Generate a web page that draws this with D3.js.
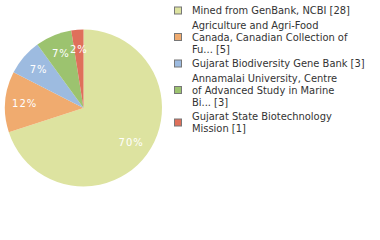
<!DOCTYPE html>
<html>
<head>
<meta charset="utf-8">
<script src="https://cdn.jsdelivr.net/npm/d3@7"></script>
<style>
  body { margin: 0; background: #fff; }
  svg { display: block; }
</style>
</head>
<body>
<div id="graph"></div>
<script>
var labels = [
  ["Mined from GenBank, NCBI [28]"],
  ["Agriculture and Agri-Food", "Canada, Canadian Collection of", "Fu... [5]"],
  ["Gujarat Biodiversity Gene Bank [3]"],
  ["Annamalai University, Centre", "of Advanced Study in Marine", "Bi... [3]"],
  ["Gujarat State Biotechnology", "Mission [1]"]
];
var counts = [28, 5, 3, 3, 1];
var colors = ["#dde3a0", "#f0ab6f", "#9dbbe0", "#9cc36f", "#df705b"];

var width = 380, height = 240;
var radius = 78.5;
var total = d3.sum(counts);

var svg = d3.select("#graph").append("svg")
    .attr("width", width)
    .attr("height", height);

var pie = d3.pie().sort(null).value(function(d) { return d; });
var arc = d3.arc().innerRadius(0).outerRadius(radius);
var labelArc = d3.arc().innerRadius(59).outerRadius(59);

var g = svg.append("g").attr("transform", "translate(83.5,108)");

var slices = g.selectAll(".arc")
    .data(pie(counts))
  .enter().append("g")
    .attr("class", "arc");

slices.append("path")
    .attr("d", arc)
    .style("fill", function(d, i) { return colors[i]; });

slices.append("text")
    .attr("transform", function(d) { return "translate(" + labelArc.centroid(d) + ")"; })
    .attr("text-anchor", "middle")
    .attr("dy", "0.35em")
    .style("font-family", "DejaVu Sans")
    .style("font-size", "10px")
    .style("letter-spacing", "1px")
    .style("fill", "#fff")
    // floor, not round: 5/40 shows as 12%
    .text(function(d) { return Math.floor(d.value / total * 100) + "%"; });

// legend
var lineH = 12;
var legend = svg.append("g").attr("transform", "translate(174,0)");
var y = 4;
labels.forEach(function(lines, i) {
  var h = lines.length * lineH;
  var item = legend.append("g").attr("transform", "translate(0," + y + ")");
  item.append("rect")
      .attr("x", 0.5)
      .attr("y", h / 2 - 3)
      .attr("width", 7)
      .attr("height", 7)
      .style("fill", colors[i])
      .style("stroke", "#777");
  item.append("text")
      .style("font-family", "DejaVu Sans Condensed")
      .style("font-size", "11px")
      .style("fill", "#333")
    .selectAll("tspan")
      .data(lines)
    .enter().append("tspan")
      .attr("x", 18)
      .attr("y", function(d, j) { return j * lineH + 10; })
      .text(function(d) { return d; });
  y += h + 2.5;
});
</script>
</body>
</html>
